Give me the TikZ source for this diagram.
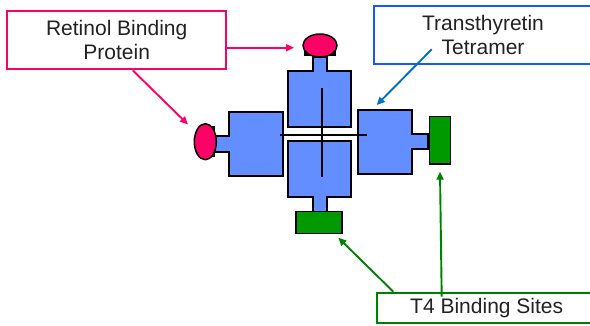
\documentclass[tikz,border=0pt]{standalone}
\usepackage{fontspec}
\setmainfont{Liberation Sans}
\usetikzlibrary{arrows.meta,shapes.geometric}
\definecolor{unitblue}{RGB}{98,142,255}
\definecolor{rbppink}{RGB}{255,0,102}
\definecolor{sitegreen}{RGB}{0,153,0}
\definecolor{ttrblue}{RGB}{20,90,255}
\definecolor{ttrarrow}{RGB}{0,112,192}
\definecolor{tfourgreen}{RGB}{0,128,0}
\definecolor{labeltext}{RGB}{34,34,34}
\begin{document}
\begin{tikzpicture}[x=1pt,y=-1pt,
  subunit/.style={fill=unitblue,draw=black,line width=2.2pt,line join=miter},
  rbpblob/.style={ellipse,fill=rbppink,draw=black,line width=1.5pt,inner sep=0pt},
  siteblock/.style={rectangle,fill=sitegreen,draw=black,line width=1.5pt,inner sep=0pt},
  labelbox/.style={rectangle,draw,line width=2pt,fill=white,text=labeltext,
    align=center,inner sep=0pt,font=\fontsize{21}{24}\selectfont},
  callout/.style={line width=1.9pt,-{Triangle[length=8pt,width=7pt]}},
  axisline/.style={line width=2.2pt,black}]
\useasboundingbox (0,0) rectangle (590,325);

% four subunits of the tetramer, each with a neck toward its binding partner
\draw[subunit] (288.3,126.7) -- (288.3,71) -- (312.7,71) -- (312.7,57) -- (327.3,57)
  -- (327.3,71) -- (351,71) -- (351,126.7) -- cycle;
\draw[subunit] (288.3,141) -- (288.3,196.7) -- (312.7,196.7) -- (312.7,212) -- (327.3,212)
  -- (327.3,196.7) -- (351,196.7) -- (351,141) -- cycle;
\draw[subunit] (282.7,112.3) -- (229,112.3) -- (229,136) -- (215,136) -- (215,152.3)
  -- (229,152.3) -- (229,176) -- (282.7,176) -- cycle;
\draw[subunit] (358.3,110) -- (412.3,110) -- (412.3,134) -- (428,134) -- (428,149)
  -- (412.3,149) -- (412.3,174) -- (358.3,174) -- cycle;

% central axes
\draw[axisline] (280,135) -- (367.3,135);
\draw[axisline] (322,87.7) -- (322,176.7);

% retinol binding protein molecules (dark base under each)
\fill[black] (304,56) rectangle (336,51);
\node[rbpblob,minimum width=34pt,minimum height=23pt] (rbptop) at (320,45.5) {};
\fill[black] (211,126) rectangle (215,157);
\node[rbpblob,minimum width=22pt,minimum height=36pt] (rbpleft) at (205.3,141.7) {};

% thyroxine binding sites
\node[siteblock,minimum width=46pt,minimum height=21.6pt] (sitebottom) at (319.2,222.5) {};
\node[siteblock,minimum width=21.4pt,minimum height=47.3pt] (siteright) at (440,140.3) {};

% label boxes
\node[labelbox,draw=rbppink,minimum width=218.7pt,minimum height=58.6pt] (rbplabel)
  at (116.7,40) {Retinol Binding\\Protein};
\node[labelbox,draw=ttrblue,minimum width=218pt,minimum height=58.3pt] (ttrlabel)
  at (483,35.2) {Transthyretin\\Tetramer};
\node[labelbox,draw=tfourgreen,minimum width=220pt,minimum height=30pt] (tfourlabel)
  at (486.7,307.7) {T4 Binding Sites};

% callout targets
\coordinate (rbptopin) at (294,47.7);
\coordinate (rbpleftin) at (188,124.5);
\coordinate (ttrin) at (376.7,105);
\coordinate (ttrstart) at (431.7,49.3);
\coordinate (sitebin) at (338.3,237.7);
\coordinate (siterin) at (440,171.7);

% callouts
\draw[callout,rbppink] ([yshift=-7.7pt]rbplabel.east) -- (rbptopin);
\draw[callout,rbppink] ([xshift=16pt]rbplabel.south) -- (rbpleftin);
\draw[callout,ttrarrow] (ttrstart) -- (ttrin);
\draw[callout,tfourgreen] ([xshift=-93.4pt]tfourlabel.north) -- (sitebin);
\draw[callout,tfourgreen] ([xshift=-45pt,yshift=-5pt]tfourlabel.north) -- (siterin);
\end{tikzpicture}
\end{document}
